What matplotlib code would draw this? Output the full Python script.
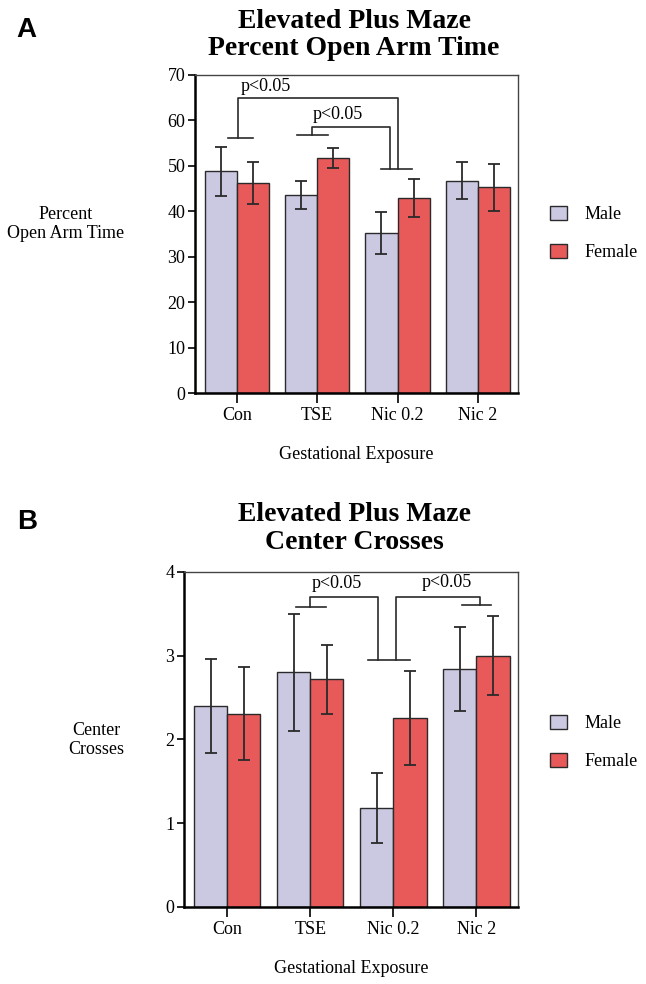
import numpy as np
from matplotlib import pyplot as plt

plt.rcParams['font.family'] = ['Liberation Serif', 'DejaVu Serif']

groups = ['Con', 'TSE', 'Nic 0.2', 'Nic 2']

# panel A: percent open arm time
open_male = [48.8, 43.6, 35.3, 46.7]
open_male_se = [5.4, 3.1, 4.6, 4.1]
open_female = [46.3, 51.7, 43.0, 45.3]
open_female_se = [4.6, 2.2, 4.2, 5.2]

# panel B: center crosses
cross_male = [2.40, 2.80, 1.18, 2.84]
cross_male_se = [0.56, 0.70, 0.42, 0.50]
cross_female = [2.31, 2.72, 2.26, 3.00]
cross_female_se = [0.55, 0.41, 0.56, 0.47]

male_col = '#cbc8e2'
female_col = '#e85a5a'
line_col = '#2a2a2a'
fs = 13

fig = plt.figure(figsize=(6.46, 9.84), dpi=100)


def draw_panel(ax, male, male_se, female, female_se, ylim, yticks):
    x = np.arange(len(groups))
    w = 0.4
    ax.bar(x - w / 2, male, w, color=male_col, edgecolor=line_col, linewidth=1.0, label='Male', zorder=2)
    ax.bar(x + w / 2, female, w, color=female_col, edgecolor=line_col, linewidth=1.0, label='Female', zorder=2)
    ax.errorbar(x - w / 2, male, yerr=male_se, fmt='none', ecolor=line_col, elinewidth=1.3, capsize=4, capthick=1.3, zorder=3)
    ax.errorbar(x + w / 2, female, yerr=female_se, fmt='none', ecolor=line_col, elinewidth=1.3, capsize=4, capthick=1.3, zorder=3)
    ax.set_xlim(-0.52, 3.5)
    ax.set_ylim(*ylim)
    ax.set_yticks(yticks)
    ax.set_xticks(x)
    ax.set_xticklabels(groups, fontsize=fs)
    ax.tick_params(axis='y', labelsize=fs, direction='out', length=5, width=1.2, pad=2)
    ax.tick_params(axis='x', direction='out', length=7, width=1.2, pad=3)
    for s in ['left', 'bottom']:
        ax.spines[s].set_linewidth(1.8)
    for s in ['top', 'right']:
        ax.spines[s].set_linewidth(1.0)
        ax.spines[s].set_color('#444444')
    ax.set_xlabel('Gestational Exposure', fontsize=fs, labelpad=16)


def bracket(ax, pts):
    xs, ys = zip(*pts)
    ax.plot(xs, ys, color=line_col, lw=1.2, clip_on=False, zorder=4)


def add_legend(ax, yc):
    ax.legend(loc='center left', bbox_to_anchor=(0.851, yc), bbox_transform=fig.transFigure,
              frameon=False, fontsize=fs, handlelength=0.95, handleheight=0.85,
              labelspacing=1.15, handletextpad=1.0, borderpad=0, borderaxespad=0)


# ---- panel A
axA = fig.add_axes([0.302, 0.6006, 0.500, 0.3232])
draw_panel(axA, open_male, open_male_se, open_female, open_female_se, (0, 70), range(0, 71, 10))
bracket(axA, [(-0.11, 56.1), (0.2, 56.1)])
bracket(axA, [(0.02, 56.1), (0.02, 64.9), (2.0, 64.9), (2.0, 49.2)])
bracket(axA, [(0.75, 56.8), (1.14, 56.8)])
bracket(axA, [(0.94, 56.8), (0.94, 58.5), (1.9, 58.5), (1.9, 49.2)])
bracket(axA, [(1.8, 49.2), (2.18, 49.2)])
axA.text(0.05, 67.4, 'p<0.05', fontsize=fs, va='center')
axA.text(0.94, 61.4, 'p<0.05', fontsize=fs, va='center')
add_legend(axA, 0.7627)

fig.text(0.548, 0.9645, 'Elevated Plus Maze\nPercent Open Arm Time', ha='center', va='center',
         fontsize=20, fontweight='bold', linespacing=1.15)
fig.text(0.102, 0.7724, 'Percent\nOpen Arm Time', ha='center', va='center', fontsize=fs, linespacing=1.1)
fig.text(0.026, 0.9695, 'A', fontsize=20, fontweight='bold', family='Liberation Sans', va='center')

# ---- panel B
axB = fig.add_axes([0.2848, 0.0783, 0.517, 0.3404])
draw_panel(axB, cross_male, cross_male_se, cross_female, cross_female_se, (0, 4), range(0, 5))
bracket(axB, [(0.83, 3.58), (1.19, 3.58)])
bracket(axB, [(1.0, 3.58), (1.0, 3.70), (1.82, 3.70), (1.82, 2.95)])
bracket(axB, [(1.70, 2.95), (2.2, 2.95)])
bracket(axB, [(2.03, 2.95), (2.03, 3.70), (3.04, 3.70), (3.04, 3.60)])
bracket(axB, [(2.83, 3.60), (3.18, 3.60)])
axB.text(1.02, 3.86, 'p<0.05', fontsize=fs, va='center')
axB.text(2.34, 3.88, 'p<0.05', fontsize=fs, va='center')
add_legend(axB, 0.2454)

fig.text(0.548, 0.4630, 'Elevated Plus Maze\nCenter Crosses', ha='center', va='center',
         fontsize=20, fontweight='bold', linespacing=1.12)
fig.text(0.149, 0.248, 'Center\nCrosses', ha='center', va='center', fontsize=fs, linespacing=1.1)
fig.text(0.026, 0.4695, 'B', fontsize=20, fontweight='bold', family='Liberation Sans', va='center')

plt.savefig('out.png', dpi=100)
